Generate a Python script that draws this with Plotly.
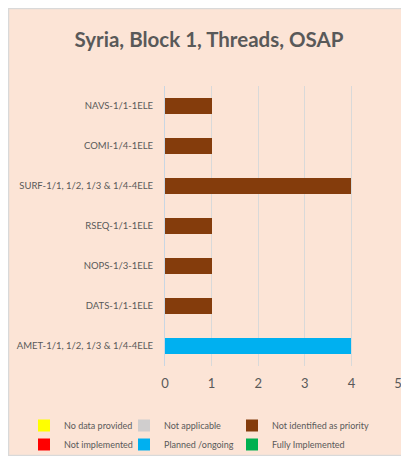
import plotly.graph_objects as go

categories = ["AMET-1/1, 1/2, 1/3 & 1/4-4ELE", "DATS-1/1-1ELE", "NOPS-1/3-1ELE",
              "RSEQ-1/1-1ELE", "SURF-1/1, 1/2, 1/3 & 1/4-4ELE", "COMI-1/4-1ELE", "NAVS-1/1-1ELE"]
no_data = [0, 0, 0, 0, 0, 0, 0]
not_applicable = [0, 0, 0, 0, 0, 0, 0]
not_priority = [0, 1, 1, 1, 4, 1, 1]
not_implemented = [0, 0, 0, 0, 0, 0, 0]
planned = [4, 0, 0, 0, 0, 0, 0]
fully = [0, 0, 0, 0, 0, 0, 0]
x_ticks = [0, 1, 2, 3, 4, 5]

# (name, values, colour, legend column)
series = [
    ("No data provided", no_data, "#FFFF00", "legend"),
    ("Not applicable", not_applicable, "#D0CECE", "legend2"),
    ("Not identified as priority", not_priority, "#843C0C", "legend3"),
    ("Not implemented", not_implemented, "#FF0000", "legend"),
    ("Planned /ongoing", planned, "#00B0F0", "legend2"),
    ("Fully Implemented", fully, "#00B050", "legend3"),
]

fig = go.Figure()
for name, vals, col, lg in series:
    fig.add_trace(go.Bar(y=categories, x=vals, name=name, orientation="h", legend=lg,
                         marker=dict(color=col, line=dict(width=0))))

# page has an 8px body margin; figure coordinates below are page coords minus offset
OX, OY = 8, 7
W, H = 397, 448
L, R, T, B = 165 - OX, 7, 85 - OY, 90
pw, ph = W - L - R, H - T - B

def px(x):
    return (x - OX - L) / pw

def py(y):
    return (H - B - (y - OY)) / ph

fig.add_shape(type="rect", xref="paper", yref="paper", layer="below",
              x0=-L / pw + 0.002, x1=1 + R / pw - 0.002,
              y0=-B / ph + 0.002, y1=1 + T / ph - 0.002,
              fillcolor="rgba(0,0,0,0)", line=dict(color="#D9D9D9", width=1.5))

def legend_at(xpage):
    return dict(orientation="v", x=px(xpage), y=py(410), xanchor="left", yanchor="top",
                itemwidth=30, bgcolor="rgba(0,0,0,0)", font=dict(size=9, color="#595959"),
                traceorder="normal", tracegroupgap=0)

fig.update_layout(
    width=W, height=H,
    margin=dict(l=L, r=R, t=T, b=B, autoexpand=False),
    paper_bgcolor="#FCE4D6", plot_bgcolor="rgba(0,0,0,0)",
    barmode="stack", bargap=0.62,
    font=dict(family="Lato, Liberation Sans, sans-serif", color="#595959", size=10),
    title=dict(text="<b>Syria, Block 1, Threads, OSAP</b>", x=(209 - OX) / W, xref="container",
               xanchor="center", y=1 - (39 - OY) / H, yanchor="middle",
               font=dict(size=20.5, color="#595959", family="Lato, Liberation Sans, sans-serif")),
    xaxis=dict(range=[0, 5], tickvals=x_ticks, showgrid=True, gridcolor="#D9D9D9",
               gridwidth=1, zeroline=False, showline=False, ticks="", automargin=False,
               ticklabelstandoff=8,
               tickfont=dict(size=13, color="#595959"), fixedrange=True),
    yaxis=dict(categoryorder="array", categoryarray=categories, showgrid=False,
               showline=True, linecolor="#C9D6E3", linewidth=1, ticks="", automargin=False,
               ticklabelstandoff=9, tickfont=dict(size=9.5, color="#595959"), fixedrange=True),
    showlegend=True,
    legend=legend_at(24),
    legend2=legend_at(124),
    legend3=legend_at(232),
)
fig.write_html("out.html")
